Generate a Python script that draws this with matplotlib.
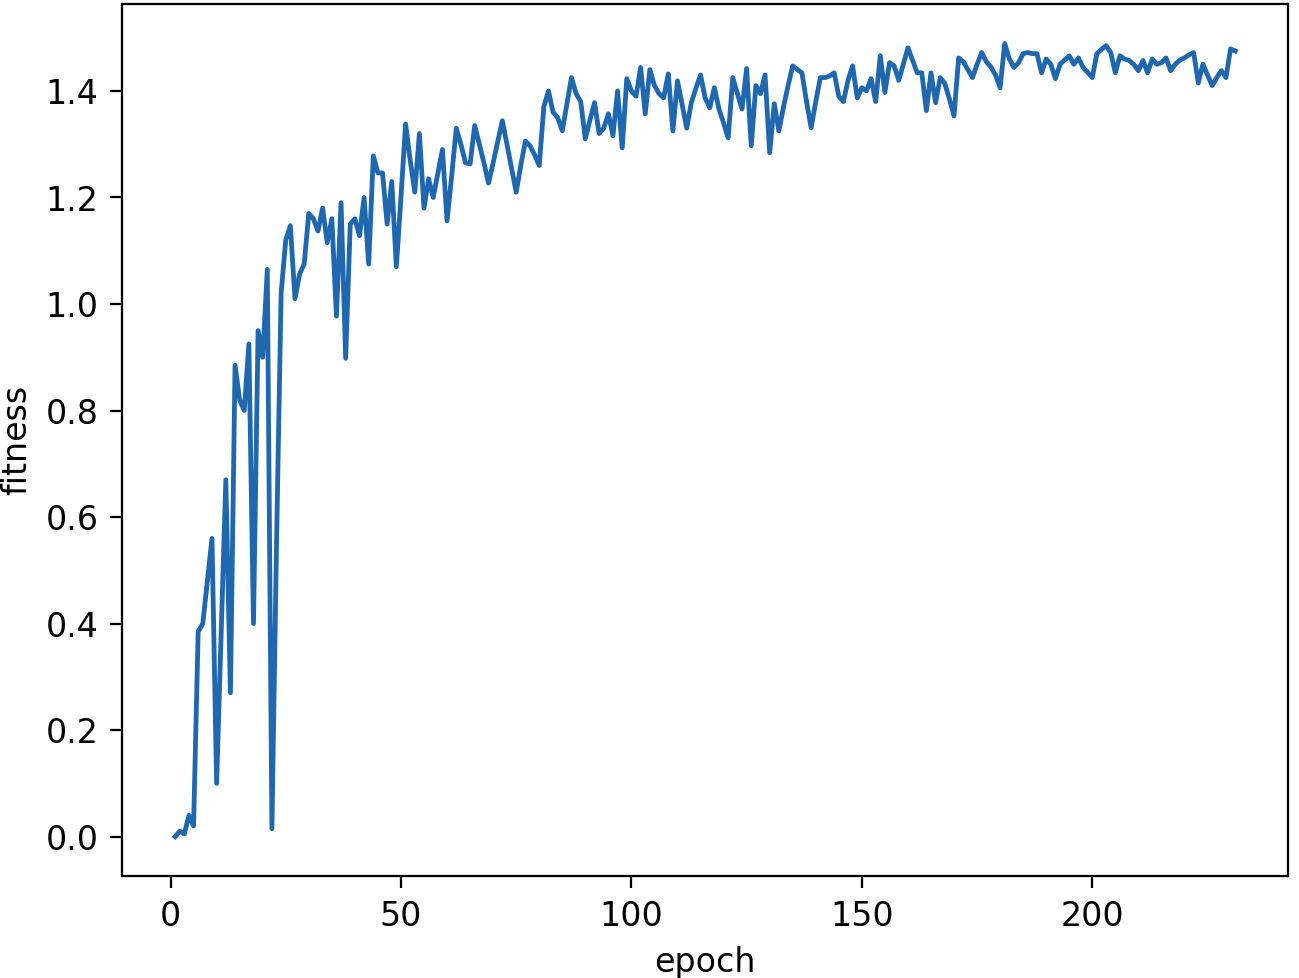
import numpy as np
import matplotlib
matplotlib.use('Agg')
from matplotlib import pyplot as plt

# fitness per epoch
fitness_1_50 = [0.0, 0.01, 0.005, 0.04, 0.02, 0.385, 0.40, 0.48, 0.56, 0.10,
                0.385, 0.67, 0.27, 0.885, 0.82, 0.80, 0.925, 0.40, 0.95, 0.90,
                1.065, 0.015, 0.55, 1.02, 1.12, 1.147, 1.01, 1.056, 1.075, 1.17,
                1.16, 1.137, 1.18, 1.115, 1.16, 0.977, 1.19, 0.898, 1.15, 1.16,
                1.128, 1.20, 1.075, 1.278, 1.246, 1.246, 1.15, 1.23, 1.07, 1.20]
fitness_51_100 = [1.338, 1.27, 1.21, 1.32, 1.18, 1.235, 1.20, 1.245, 1.29, 1.156,
                  1.24, 1.33, 1.30, 1.265, 1.263, 1.335, 1.30, 1.265, 1.227, 1.265,
                  1.305, 1.344, 1.30, 1.255, 1.21, 1.26, 1.306, 1.297, 1.28, 1.26,
                  1.37, 1.40, 1.36, 1.35, 1.325, 1.375, 1.425, 1.395, 1.38, 1.31,
                  1.345, 1.378, 1.32, 1.33, 1.357, 1.316, 1.40, 1.293, 1.423, 1.40]
fitness_101_150 = [1.39, 1.444, 1.357, 1.44, 1.41, 1.395, 1.387, 1.432, 1.325, 1.419,
                   1.375, 1.33, 1.378, 1.405, 1.43, 1.387, 1.368, 1.406, 1.366, 1.34,
                   1.312, 1.425, 1.395, 1.366, 1.442, 1.297, 1.41, 1.395, 1.43, 1.284,
                   1.376, 1.325, 1.37, 1.41, 1.447, 1.44, 1.434, 1.38, 1.331, 1.38,
                   1.425, 1.425, 1.428, 1.434, 1.39, 1.38, 1.42, 1.447, 1.387, 1.406]
fitness_151_200 = [1.40, 1.423, 1.38, 1.466, 1.397, 1.453, 1.447, 1.42, 1.45, 1.481,
                   1.458, 1.434, 1.434, 1.363, 1.434, 1.378, 1.425, 1.414, 1.385, 1.353,
                   1.462, 1.455, 1.44, 1.425, 1.45, 1.472, 1.455, 1.445, 1.43, 1.406,
                   1.489, 1.46, 1.444, 1.453, 1.47, 1.472, 1.47, 1.47, 1.434, 1.46,
                   1.45, 1.423, 1.45, 1.458, 1.466, 1.45, 1.462, 1.444, 1.435, 1.425]
fitness_201_231 = [1.47, 1.478, 1.485, 1.472, 1.434, 1.466, 1.46, 1.457, 1.45, 1.438,
                   1.457, 1.434, 1.46, 1.45, 1.453, 1.462, 1.438, 1.45, 1.458, 1.462,
                   1.468, 1.472, 1.415, 1.45, 1.43, 1.41, 1.425, 1.438, 1.425, 1.479,
                   1.475]

fitness = fitness_1_50 + fitness_51_100 + fitness_101_150 + fitness_151_200 + fitness_201_231
epoch = np.arange(1, len(fitness) + 1)

plt.rcParams['font.size'] = 11.8
plt.rcParams['xtick.major.size'] = 4.2
plt.rcParams['ytick.major.size'] = 4.2
plt.rcParams['xtick.major.pad'] = 4.2
plt.rcParams['ytick.major.pad'] = 4.2

fig = plt.figure(figsize=(6.4, 4.818), dpi=203)
ax = fig.add_axes([0.094, 0.104, 0.8975, 0.892])
ax.plot(epoch, fitness, color='#1f68b0', linewidth=1.7)
ax.set_xlabel('epoch', labelpad=4.5)
ax.set_ylabel('fitness', labelpad=4.5)
ax.set_xticks([0, 50, 100, 150, 200])
ax.set_yticks([0.0, 0.2, 0.4, 0.6, 0.8, 1.0, 1.2, 1.4])

fig.savefig('out.png', dpi=203)
